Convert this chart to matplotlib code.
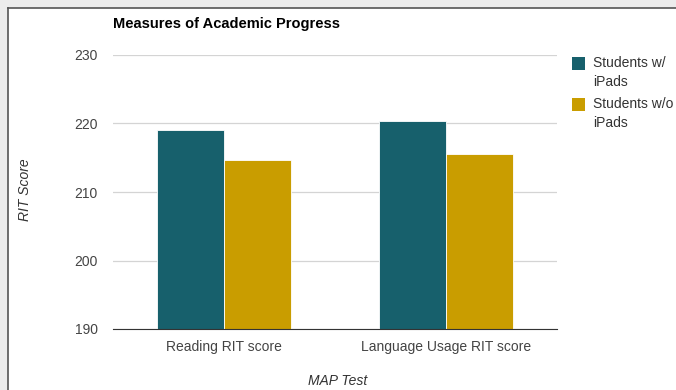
import matplotlib.pyplot as plt
from matplotlib.patches import Rectangle
from matplotlib.lines import Line2D
import numpy as np

plt.rcParams['font.family'] = ['Liberation Sans', 'DejaVu Sans']

categories = ['Reading RIT score', 'Language Usage RIT score']
with_ipads = [219.0, 220.4]
without_ipads = [214.7, 215.6]
series_names = ['Students w/\niPads', 'Students w/o\niPads']
yticks = [190, 200, 210, 220, 230]

teal = '#17606c'
gold = '#c99d00'

fig = plt.figure(figsize=(6.76, 3.90), dpi=100, facecolor='#ececec')

# white card with a dark edge on the left and top
fx, fy = 8 / 676, 1 - 8 / 390
fig.patches.append(Rectangle((fx, 0), 1 - fx, fy, transform=fig.transFigure,
                             facecolor='white', edgecolor='none', zorder=-5))
fig.lines.append(Line2D([fx, fx], [0, fy], transform=fig.transFigure, color='#555555', lw=1.2))
fig.lines.append(Line2D([fx, 1], [fy, fy], transform=fig.transFigure, color='#555555', lw=1.2))

ax = fig.add_axes([113 / 676, 61 / 390, 444 / 676, 274 / 390])
ax.set_facecolor('none')
ax.set_zorder(2)

x = np.arange(len(categories))
w = 0.3
ax.bar(x - w / 2, with_ipads, w, color=teal, edgecolor='white', linewidth=0.6, zorder=3)
ax.bar(x + w / 2, without_ipads, w, color=gold, edgecolor='white', linewidth=0.6, zorder=3)

ax.set_xlim(-0.5, 1.5)
ax.set_ylim(190, 230)
ax.set_yticks(yticks)
ax.set_xticks(x)
ax.set_xticklabels(categories)
ax.tick_params(length=0, labelsize=10, labelcolor='#444444')
ax.tick_params(axis='y', pad=11)
ax.tick_params(axis='x', pad=8)
ax.grid(axis='y', color='#d4d4d4', lw=0.9, zorder=0)
for s in ['top', 'right', 'left']:
    ax.spines[s].set_visible(False)
ax.spines['bottom'].set_color('#333333')
ax.spines['bottom'].set_zorder(4)

fig.text(113 / 676, 1 - 24 / 390, 'Measures of Academic Progress', fontsize=10.5,
         fontweight='bold', color='black', va='center', ha='left')
fig.text(25 / 676, 1 - 190 / 390, 'RIT Score', rotation=90, fontsize=10,
         style='italic', color='#333333', ha='center', va='center')
fig.text(338 / 676, 1 - 381 / 390, 'MAP Test', fontsize=10,
         style='italic', color='#333333', ha='center', va='center')

# legend drawn by hand so it can run off the right edge like the original
for i, (name, col) in enumerate(zip(series_names, [teal, gold])):
    top = 55 + i * 41
    fig.patches.append(Rectangle((572 / 676, 1 - (top + 15) / 390), 13 / 676, 13 / 390,
                                 transform=fig.transFigure, facecolor=col, edgecolor='none'))
    fig.text(593 / 676, 1 - (top + 1) / 390, name, fontsize=10, color='#333333',
             va='top', ha='left', linespacing=1.45)

fig.savefig('out.png', dpi=100, facecolor=fig.get_facecolor())
